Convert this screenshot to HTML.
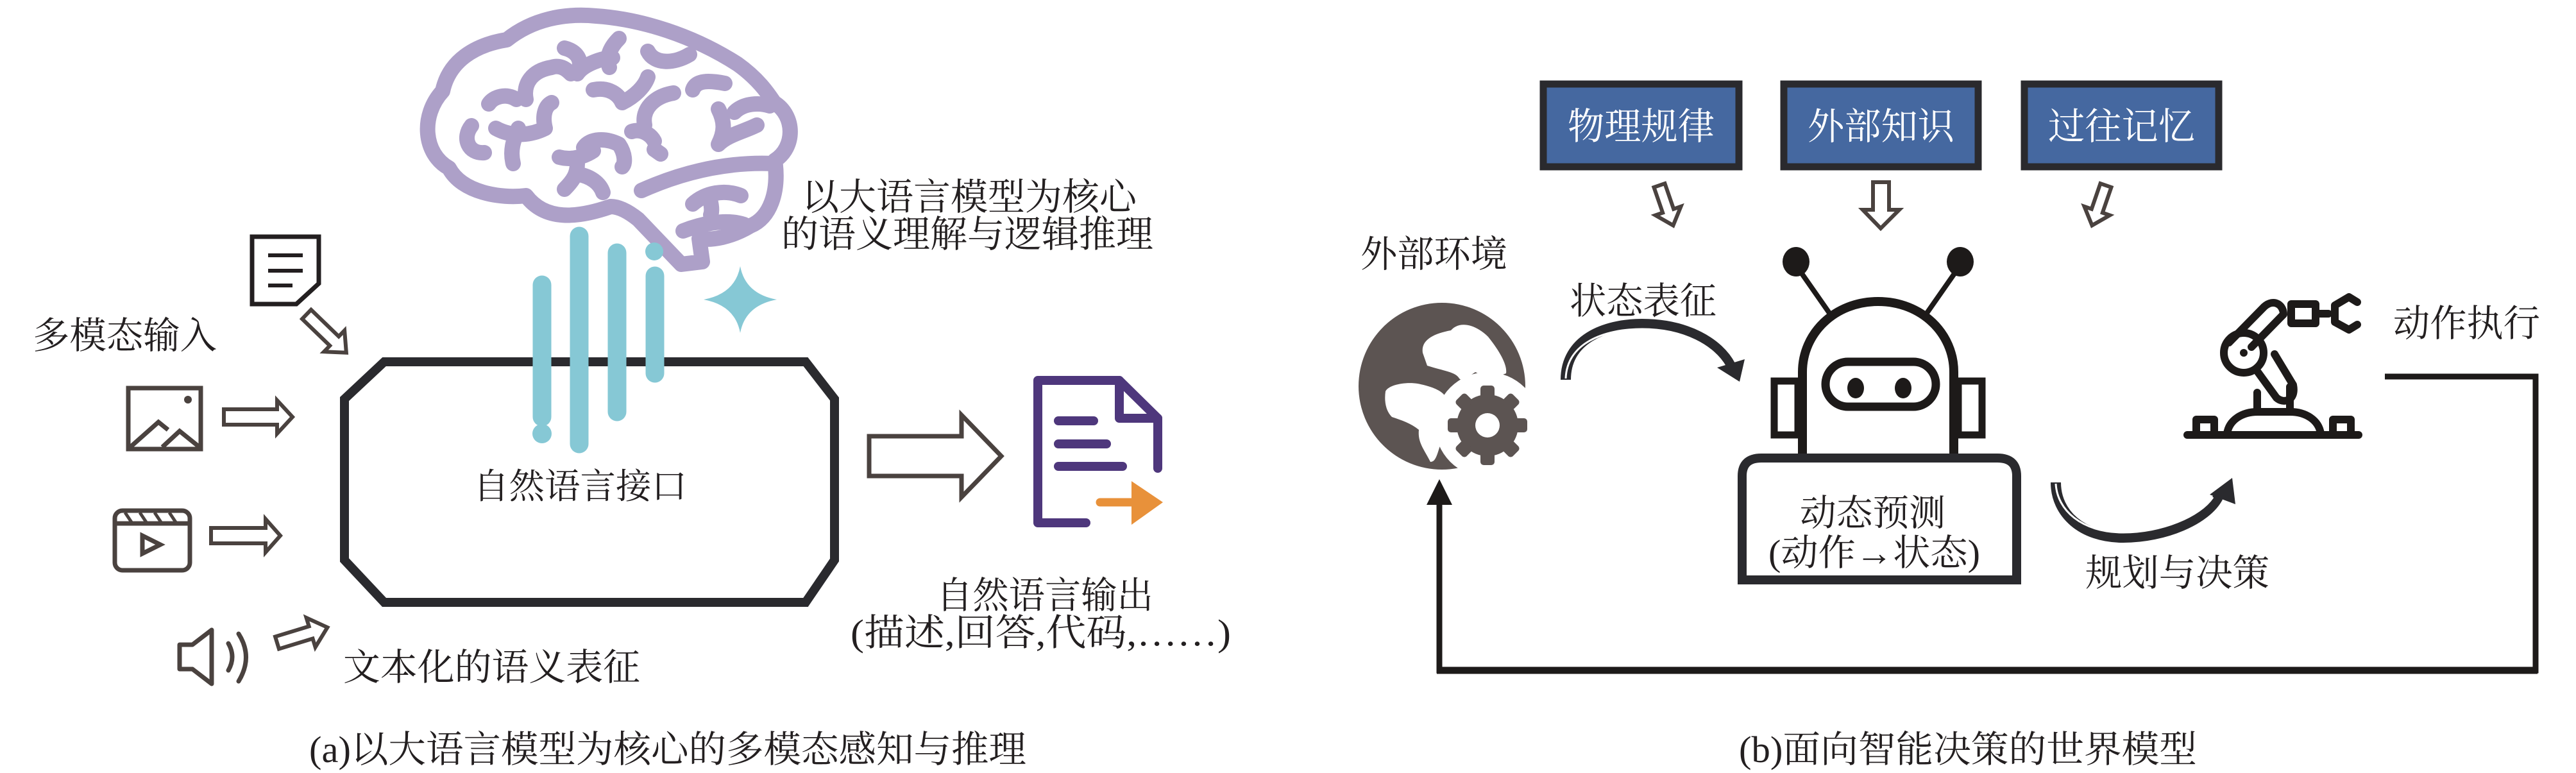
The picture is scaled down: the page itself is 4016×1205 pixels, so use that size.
<!DOCTYPE html>
<html><head><meta charset="utf-8">
<style>
html,body{margin:0;padding:0;background:#fff;}
svg{display:block;}
text{font-family:"Liberation Serif","Noto Serif CJK SC","Noto Sans CJK SC",serif;fill:#231f20;}
</style></head>
<body>
<svg width="4016" height="1205" viewBox="0 0 4016 1205" xmlns="http://www.w3.org/2000/svg">
<rect width="4016" height="1205" fill="#fff"/>

<!-- ===== LEFT PANEL ===== -->
<!-- Octagon -->
<polygon points="599,564 1256,564 1301,622 1301,873 1256,939 599,939 537,873 537,622" fill="#fff" stroke="#2a2a2e" stroke-width="14" stroke-linejoin="miter"/>

<!-- Brain -->
<g fill="none" stroke="#ada0c8" stroke-width="24" stroke-linecap="round" stroke-linejoin="round">
  <path d="M952 322 C900 340 850 345 820 305 C780 310 720 300 700 262 C660 240 655 180 690 142 C700 95 740 70 790 62 C830 30 880 20 930 25 C1000 30 1080 55 1150 100 C1185 125 1200 150 1207 160 C1240 180 1240 230 1208 250 C1215 300 1200 340 1170 352 C1140 370 1110 375 1090 372 L1095 408 L1062 412 L995 342 C980 330 965 322 952 322 Z"/>
  <path d="M1000 297 C1060 270 1130 252 1205 255"/>
  <path d="M1065 360 C1090 350 1130 340 1160 350"/>
  <path d="M762 162 C770 150 790 145 805 155"/>
  <path d="M735 196 C720 215 730 240 755 238"/>
  <path d="M773 200 C800 215 830 210 850 200 C845 180 850 165 860 160"/>
  <path d="M820 155 C815 130 830 110 860 105 C875 100 885 110 890 115"/>
  <path d="M880 75 C900 80 910 95 900 115 C910 100 940 90 955 90"/>
  <path d="M965 60 C950 75 945 90 950 105"/>
  <path d="M925 140 C950 135 965 148 970 160 C990 150 1005 135 1010 120"/>
  <path d="M1010 80 C1020 100 1050 100 1075 85"/>
  <path d="M1005 195 C1000 170 1020 150 1050 145"/>
  <path d="M985 205 C1000 200 1015 210 1020 220"/>
  <path d="M1080 140 C1085 125 1105 125 1130 130"/>
  <path d="M1120 170 C1130 190 1130 205 1120 225 C1135 210 1160 205 1180 195"/>
  <path d="M1145 175 C1160 160 1185 160 1200 165"/>
  <path d="M910 230 C920 215 945 215 965 225 C975 240 975 255 970 260"/>
  <path d="M872 245 C890 250 910 245 925 235"/>
  <path d="M880 295 C895 280 900 270 900 255"/>
  <path d="M903 272 C920 275 935 285 940 300"/>
  <path d="M1020 233 L1030 240"/>
  <path d="M1080 318 C1100 300 1130 295 1155 305"/>
  <path d="M1105 305 C1110 320 1110 330 1108 335"/>
  <path d="M808 200 C800 220 795 235 800 255"/>
</g>

<!-- Teal lines (over box) -->
<g stroke="#86c8d5" stroke-width="29" stroke-linecap="round" fill="none">
  <line x1="845" y1="444" x2="845" y2="650"/>
  <line x1="903" y1="368" x2="903" y2="692"/>
  <line x1="962" y1="394" x2="962" y2="642"/>
  <line x1="1021" y1="430" x2="1021" y2="582"/>
</g>
<circle cx="845" cy="676" r="15" fill="#86c8d5"/>
<circle cx="1020" cy="392" r="14" fill="#86c8d5"/>
<!-- sparkle -->
<path d="M1154 415 Q1162 458 1211 467 Q1162 476 1154 519 Q1146 476 1097 467 Q1146 458 1154 415 Z" fill="#86c8d5"/>

<!-- Doc icon (input) -->
<path d="M393 369 L497 369 L497 442 L462 474 L393 474 Z" fill="none" stroke="#231f20" stroke-width="7"/>
<g stroke="#231f20" stroke-width="6"><line x1="418" y1="398" x2="472" y2="398"/><line x1="418" y1="422" x2="472" y2="422"/><line x1="418" y1="445" x2="456" y2="445"/></g>

<!-- Image icon -->
<g fill="none" stroke="#4a423f" stroke-width="7" stroke-linejoin="miter">
  <rect x="200" y="605" width="113" height="95"/>
  <polyline points="203,697 247,658 262,670"/>
  <polyline points="253,697 280,672 311,697"/>
</g>
<circle cx="293" cy="623" r="6" fill="#4a423f"/>

<!-- Video icon -->
<g fill="none" stroke="#4a423f" stroke-width="7">
  <rect x="179" y="796" width="117" height="93" rx="12"/>
  <line x1="179" y1="816" x2="296" y2="816"/>
  <path d="M222 835 L222 863 L250 849 Z"/>
</g>
<g stroke="#4a423f" stroke-width="5"><line x1="195" y1="799" x2="205" y2="814"/><line x1="218" y1="799" x2="228" y2="814"/><line x1="241" y1="799" x2="251" y2="814"/><line x1="264" y1="799" x2="274" y2="814"/></g>

<!-- Speaker -->
<g fill="none" stroke="#4a423f" stroke-width="7" stroke-linecap="round">
  <path d="M280 1005 L300 1005 L330 982 L330 1066 L300 1043 L280 1043 Z" stroke-linejoin="round"/>
  <path d="M356 1003 Q368 1024 356 1045"/>
  <path d="M372 988 Q395 1024 372 1062"/>
</g>

<!-- small hollow arrows (left) -->
<g fill="#fff" stroke="#4a423f" stroke-width="6">
  <polygon points="349,638 432,638 432,624 456,650 432,676 432,662 349,662"/>
  <polygon points="329,823 414,823 414,809 437,835 414,861 414,847 329,847"/>
  <g transform="translate(478,490) rotate(44)"><polygon points="0,-10 60,-10 60,-23 86,0 60,23 60,10 0,10"/></g>
  <g transform="translate(432,1002) rotate(-17)"><polygon points="0,-10 55,-10 55,-24 82,0 55,24 55,10 0,10"/></g>
</g>
<!-- big arrow -->
<polygon points="1355,680 1499,680 1499,647 1561,711 1499,775 1499,742 1355,742" fill="#fff" stroke="#4a423f" stroke-width="7"/>

<!-- Output doc -->
<g fill="none" stroke="#4e377c" stroke-width="14" stroke-linecap="round" stroke-linejoin="round">
  <path d="M1693 815 L1618 815 L1618 593 L1745 593 L1805 652 L1805 730"/>
  <path d="M1745 593 L1745 652 L1805 652"/>
  <line x1="1650" y1="656" x2="1705" y2="656"/>
  <line x1="1650" y1="692" x2="1725" y2="692"/>
  <line x1="1650" y1="727" x2="1750" y2="727"/>
</g>
<line x1="1715" y1="783" x2="1770" y2="783" stroke="#e8913a" stroke-width="13" stroke-linecap="round"/>
<polygon points="1764,750 1813,783 1764,818" fill="#e8913a"/>

<!-- Left text -->
<text x="51" y="543" font-size="58" textLength="287" lengthAdjust="spacingAndGlyphs">多模态输入</text>
<text x="1250" y="327" font-size="58" textLength="522" lengthAdjust="spacingAndGlyphs">以大语言模型为核心</text>
<text x="1218" y="385" font-size="58" textLength="580" lengthAdjust="spacingAndGlyphs">的语义理解与逻辑推理</text>
<text x="738" y="777" font-size="55" textLength="333" lengthAdjust="spacingAndGlyphs">自然语言接口</text>
<text x="535" y="1060" font-size="58" textLength="463" lengthAdjust="spacingAndGlyphs">文本化的语义表征</text>
<text x="1460" y="948" font-size="58" textLength="338" lengthAdjust="spacingAndGlyphs">自然语言输出</text>
<text x="1326" y="1006" font-size="58" textLength="593" lengthAdjust="spacingAndGlyphs">(描述,回答,代码,……)</text>
<text x="482" y="1188" font-size="58" textLength="1118" lengthAdjust="spacingAndGlyphs">(a)以大语言模型为核心的多模态感知与推理</text>

<!-- ===== RIGHT PANEL ===== -->
<g stroke="#2a2a2e" stroke-width="11" fill="#4568a0">
  <rect x="2406" y="131" width="305" height="129"/>
  <rect x="2781" y="131" width="303" height="129"/>
  <rect x="3156" y="131" width="303" height="129"/>
</g>
<g>
<text x="2444" y="217" font-size="58" textLength="229" lengthAdjust="spacingAndGlyphs" style="fill:#fff">物理规律</text>
<text x="2818" y="217" font-size="58" textLength="229" lengthAdjust="spacingAndGlyphs" style="fill:#fff">外部知识</text>
<text x="3193" y="217" font-size="58" textLength="229" lengthAdjust="spacingAndGlyphs" style="fill:#fff">过往记忆</text>
</g>
<!-- down arrows -->
<g fill="#fff" stroke="#4a423f" stroke-width="6">
  <polygon points="2920,284 2945,284 2945,327 2961,327 2932,356 2904,327 2920,327"/>
  <g transform="translate(2587,289) rotate(71)"><polygon points="0,-9 42,-9 42,-21 66,0 42,21 42,9 0,9"/></g>
  <g transform="translate(3283,289) rotate(109)"><polygon points="0,-9 42,-9 42,-21 66,0 42,21 42,9 0,9"/></g>
</g>

<!-- Globe -->
<circle cx="2248" cy="602" r="130" fill="#5c5452"/>
<path d="M2218 550 C2215 530 2235 520 2262 515 C2275 500 2300 505 2320 525 C2340 550 2350 570 2348 582 C2330 590 2310 585 2300 580 C2285 590 2280 595 2275 590 C2270 580 2250 578 2225 570 Z" fill="#fff"/>
<path d="M2160 610 C2165 600 2190 595 2210 598 C2245 605 2255 615 2255 625 C2258 650 2250 680 2245 695 C2240 710 2238 720 2230 720 C2220 700 2210 690 2212 670 C2200 660 2185 655 2170 650 C2160 640 2158 625 2160 610 Z" fill="#fff"/>
<circle cx="2319" cy="662" r="82" fill="#fff"/>
<path d="M2378 606 L2386 612 L2386 700 L2370 720 L2340 740 L2300 745 Z" fill="#fff"/>
<g fill="#5c5452">
  <circle cx="2319" cy="663" r="48"/>
  <rect x="2308" y="601" width="22" height="20" rx="5"/>
  <rect x="2308" y="705" width="22" height="20" rx="5"/>
  <rect x="2257" y="652" width="20" height="22" rx="5"/>
  <rect x="2361" y="652" width="20" height="22" rx="5"/>
  <g transform="rotate(45 2319 663)">
    <rect x="2308" y="601" width="22" height="20" rx="5"/>
    <rect x="2308" y="705" width="22" height="20" rx="5"/>
    <rect x="2257" y="652" width="20" height="22" rx="5"/>
    <rect x="2361" y="652" width="20" height="22" rx="5"/>
  </g>
</g>
<circle cx="2319" cy="663" r="19" fill="#fff"/>

<!-- curved arrow 1 -->
<path d="M2441 592 C2441 530 2500 505 2560 505 C2630 505 2680 535 2698 570" fill="none" stroke="#2a2a2e" stroke-width="16"/>
<path d="M2441 590 C2443 535 2500 513 2560 513 C2625 513 2672 540 2690 572" fill="none" stroke="#fff" stroke-width="3"/>
<polygon points="2677,573 2720,560 2712,595" fill="#2a2a2e"/>

<!-- Robot -->
<g stroke="#1d1a19" stroke-width="8" fill="none">
  <line x1="2808" y1="425" x2="2852" y2="488"/>
  <line x1="3048" y1="425" x2="3004" y2="488"/>
</g>
<ellipse cx="2800" cy="408" rx="21" ry="23" fill="#1d1a19"/>
<ellipse cx="3056" cy="408" rx="21" ry="23" fill="#1d1a19"/>
<path d="M2810 707 L2810 580 C2810 520 2860 470 2928 470 C2996 470 3046 520 3046 580 L3046 707" fill="#fff" stroke="#1d1a19" stroke-width="14"/>
<rect x="2766" y="594" width="37" height="84" fill="none" stroke="#1d1a19" stroke-width="11"/>
<rect x="3053" y="594" width="37" height="84" fill="none" stroke="#1d1a19" stroke-width="11"/>
<rect x="2846" y="564" width="172" height="70" rx="35" fill="none" stroke="#1d1a19" stroke-width="13"/>
<ellipse cx="2893" cy="605" rx="13" ry="16" fill="#1d1a19"/>
<ellipse cx="2967" cy="605" rx="13" ry="16" fill="#1d1a19"/>
<path d="M2716 904 L2716 742 Q2716 714 2746 714 L3114 714 Q3144 714 3144 742 L3144 904 Z" fill="#fff" stroke="#2a2a2e" stroke-width="14"/>
<rect x="2709" y="898" width="442" height="13" fill="#2a2a2e"/>
<text x="2806" y="819" font-size="57" textLength="227" lengthAdjust="spacingAndGlyphs">动态预测</text>
<text x="2757" y="881" font-size="57" textLength="330" lengthAdjust="spacingAndGlyphs">(动作→状态)</text>

<!-- curved arrow 2 -->
<path d="M3205 752 C3205 800 3245 838 3310 838 C3375 838 3440 810 3458 775" fill="none" stroke="#2a2a2e" stroke-width="16"/>
<path d="M3205 754 C3207 795 3245 830 3310 830 C3370 830 3430 805 3450 775" fill="none" stroke="#fff" stroke-width="3"/>
<polygon points="3445,771 3480,745 3485,786" fill="#2a2a2e"/>

<!-- Robot arm -->
<g fill="none" stroke="#1d1a19" stroke-width="12" stroke-linecap="round" stroke-linejoin="round">
  <line x1="3410" y1="678" x2="3677" y2="678"/>
  <path d="M3424 673 L3424 654 L3452 654 L3452 673"/>
  <path d="M3637 673 L3637 654 L3665 654 L3665 673"/>
  <path d="M3472 676 C3475 655 3495 642 3520 642 L3570 642 C3595 642 3615 655 3618 676"/>
  <path d="M3519 640 L3519 612 M3570 640 L3570 603"/>
  <path d="M3520 580 L3549 620 C3560 630 3580 625 3575 600 L3546 552"/>
  <path d="M3475 534 L3530 478 C3545 465 3560 475 3560 490 L3510 541"/>
  <circle cx="3498" cy="550" r="31"/>
  <rect x="3572" y="474" width="38" height="30"/>
  <line x1="3612" y1="489" x2="3630" y2="489"/>
  <path d="M3675 471 L3662 463 L3640 476 L3640 502 L3662 514 L3675 506"/>
</g>
<circle cx="3498" cy="550" r="6" fill="#1d1a19"/>

<!-- feedback loop -->
<polyline points="3718,587 3953,587 3953,1045 2244,1045 2244,780" fill="none" stroke="#1d1a19" stroke-width="9"/>
<line x1="2240" y1="1045" x2="3956" y2="1045" stroke="#1d1a19" stroke-width="11"/>
<polygon points="2244,747 2224,787 2264,787" fill="#1d1a19"/>

<!-- right texts -->
<text x="2121" y="416" font-size="58" textLength="229" lengthAdjust="spacingAndGlyphs">外部环境</text>
<text x="2447" y="489" font-size="58" textLength="229" lengthAdjust="spacingAndGlyphs">状态表征</text>
<text x="3251" y="913" font-size="58" textLength="287" lengthAdjust="spacingAndGlyphs">规划与决策</text>
<text x="3731" y="524" font-size="58" textLength="229" lengthAdjust="spacingAndGlyphs">动作执行</text>
<text x="2711" y="1188" font-size="58" textLength="714" lengthAdjust="spacingAndGlyphs">(b)面向智能决策的世界模型</text>
</svg>
</body></html>
